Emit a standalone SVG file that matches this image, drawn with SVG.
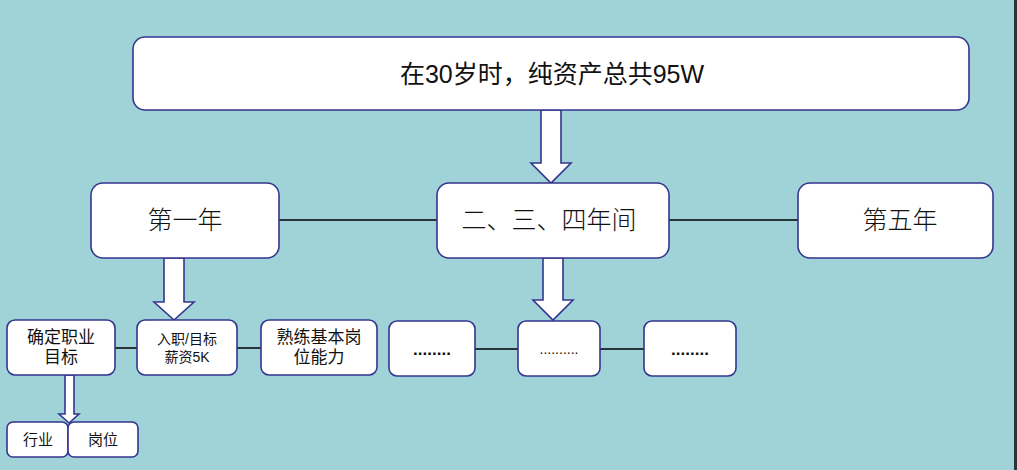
<svg xmlns="http://www.w3.org/2000/svg" width="1017" height="470" viewBox="0 0 1017 470">
<style>
.box{fill:#fff;stroke:#35358f;stroke-width:1.6}
.arr{fill:#fff;stroke:#35358f;stroke-width:1.6;stroke-linejoin:miter}
.ln{stroke:#000;stroke-width:1.5;fill:none}
.t{font-family:"Liberation Sans","Noto Sans CJK SC",sans-serif;fill:#111;text-anchor:middle}
.big{font-size:25px}
.yr{font-size:25px;font-weight:300}
.mid{font-size:17px}
.sm{font-size:14px}
.dots{font-size:17px;font-weight:bold}
</style>
<rect width="1017" height="470" fill="#9fd3d8"/>
<rect x="1014" y="0" width="3" height="470" fill="#2e3436"/>
<g id="connectors">
<line class="ln" x1="279" y1="220" x2="437" y2="220"/>
<line class="ln" x1="669" y1="220" x2="798" y2="220"/>
<line class="ln" x1="115" y1="348" x2="137" y2="348"/>
<line class="ln" x1="237" y1="348" x2="261" y2="348"/>
<line class="ln" x1="475" y1="349" x2="518" y2="349"/>
<line class="ln" x1="600" y1="349" x2="644" y2="349"/>
<polygon class="arr" points="541,110 561,110 561,163 571,163 551,183 531,163 541,163"/>
<polygon class="arr" points="164,258 184,258 184,302 194,302 174,320 154,302 164,302"/>
<polygon class="arr" points="543,258 563,258 563,300 573,300 553,320 533,300 543,300"/>
<polygon class="arr" points="65,375 74,375 74,414 79,414 69,423 59,414 65,414"/>
</g>
<g id="n-top"><rect class="box" x="133" y="37" width="836" height="73" rx="12"/><text class="t big" x="552" y="83">在30岁时，纯资产总共95W</text></g>
<g id="n-y1"><rect class="box" x="91" y="183" width="188" height="75" rx="12"/><text class="t yr" x="185" y="229">第一年</text></g>
<g id="n-y234"><rect class="box" x="437" y="183" width="232" height="75" rx="12"/><text class="t yr" x="549" y="229" font-size="26">二、三、四年间</text></g>
<g id="n-y5"><rect class="box" x="798" y="183" width="195" height="75" rx="12"/><text class="t yr" x="900" y="229">第五年</text></g>
<g id="n-goal"><rect class="box" x="7" y="320" width="108" height="55" rx="8"/><text class="t mid" x="61" y="343">确定职业</text><text class="t mid" x="61" y="363">目标</text></g>
<g id="n-job"><rect class="box" x="137" y="320" width="100" height="55" rx="8"/><text class="t sm" x="187" y="344">入职/目标</text><text class="t sm" x="187" y="362">薪资5K</text></g>
<g id="n-skill"><rect class="box" x="261" y="320" width="116" height="55" rx="8"/><text class="t mid" x="319" y="343">熟练基本岗</text><text class="t mid" x="319" y="363">位能力</text></g>
<g id="n-d1"><rect class="box" x="389" y="321" width="86" height="55" rx="8"/><text class="t dots" x="432" y="355">........</text></g>
<g id="n-d2"><rect class="box" x="518" y="321" width="82" height="55" rx="8"/><text class="t" font-size="14" x="559" y="354">..........</text></g>
<g id="n-d3"><rect class="box" x="644" y="321" width="92" height="55" rx="8"/><text class="t dots" x="690" y="355">........</text></g>
<g id="n-ind"><rect class="box" x="7" y="422" width="61" height="35" rx="6"/><text class="t" font-size="15" x="38" y="445">行业</text></g>
<g id="n-pos"><rect class="box" x="68" y="422" width="70" height="35" rx="6"/><text class="t" font-size="15" x="103" y="445">岗位</text></g>
</svg>
